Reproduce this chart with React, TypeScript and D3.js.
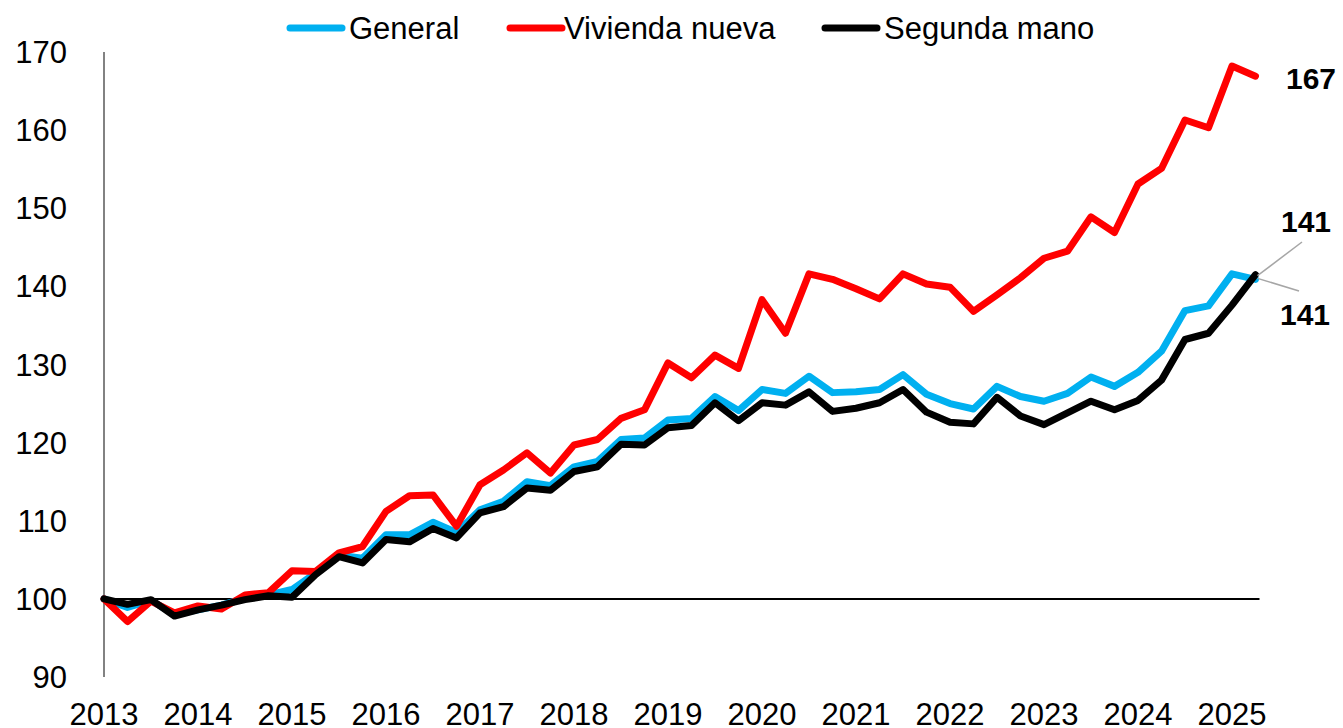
import React, { useEffect, useRef } from 'react';
import * as d3 from 'd3';

// Quarterly index, 2013Q1 = 100, up to 2025Q2
const years = [2013, 2014, 2015, 2016, 2017, 2018, 2019, 2020, 2021, 2022, 2023, 2024, 2025];
const yTicks = [90, 100, 110, 120, 130, 140, 150, 160, 170];

const general = [
  100, 98.9, 99.8, 98.0, 98.6, 99.2, 100.1, 100.5, 101.2, 103.3,
  105.6, 105.2, 108.2, 108.2, 109.8, 108.5, 111.4, 112.5, 115.0, 114.5,
  116.9, 117.6, 120.4, 120.6, 122.9, 123.1, 125.9, 124.1, 126.8, 126.3,
  128.5, 126.4, 126.5, 126.8, 128.7, 126.2, 125.0, 124.3, 127.2, 125.9,
  125.3, 126.3, 128.4, 127.2, 129.0, 131.7, 136.9, 137.5, 141.6, 140.9,
];
const viviendaNueva = [
  100, 97.1, 99.7, 98.2, 99.1, 98.7, 100.5, 100.8, 103.6, 103.5,
  105.9, 106.7, 111.2, 113.2, 113.3, 109.3, 114.6, 116.5, 118.7, 116.1,
  119.7, 120.4, 123.1, 124.2, 130.2, 128.3, 131.2, 129.5, 138.3, 134.0,
  141.6, 140.9, 139.7, 138.4, 141.6, 140.3, 139.9, 136.8, 138.9, 141.1,
  143.6, 144.5, 148.9, 146.9, 153.1, 155.1, 161.3, 160.3, 168.2, 166.9,
];
const segundaMano = [
  100, 99.3, 99.9, 97.8, 98.6, 99.2, 99.9, 100.4, 100.2, 103.1,
  105.4, 104.6, 107.6, 107.3, 109.0, 107.8, 111.0, 111.8, 114.2, 113.9,
  116.3, 116.9, 119.8, 119.7, 121.9, 122.2, 125.1, 122.8, 125.1, 124.8,
  126.5, 124.0, 124.4, 125.1, 126.8, 123.9, 122.6, 122.4, 125.8, 123.4,
  122.3, 123.8, 125.3, 124.2, 125.4, 128.0, 133.2, 134.0, 137.6, 141.5,
];

const seriesNames = ['General', 'Vivienda nueva', 'Segunda mano'];
const seriesColors = ['#00B0F0', '#FF0000', '#000000'];
const endLabels = ['141', '167', '141'];

const W = 1343;
const H = 728;
const FONT = '"Liberation Sans", Arial, sans-serif';

const App = () => {
  const ref = useRef<SVGSVGElement>(null);

  useEffect(() => {
    document.body.style.margin = '0';
    const svg = d3.select(ref.current);
    svg.selectAll('*').remove();

    const n = general.length;
    const x = d3.scaleLinear().domain([0, n - 1]).range([104, 104 + (n - 1) * 23.5]);
    const y = d3.scaleLinear().domain([90, 170]).range([677, 52]);

    // y axis line
    svg.append('line')
      .attr('x1', x(0)).attr('x2', x(0))
      .attr('y1', y(170)).attr('y2', y(90))
      .attr('stroke', '#595959').attr('stroke-width', 1.5);

    // y tick labels
    svg.append('g').selectAll('text').data(yTicks).enter().append('text')
      .attr('x', 67).attr('y', d => y(d) + 11)
      .attr('text-anchor', 'end')
      .attr('font-family', FONT).attr('font-size', 31).attr('fill', '#000')
      .text(d => d);

    // x tick labels
    svg.append('g').selectAll('text').data(years).enter().append('text')
      .attr('x', d => x((d - 2013) * 4)).attr('y', 725)
      .attr('text-anchor', 'middle')
      .attr('font-family', FONT).attr('font-size', 31).attr('fill', '#000')
      .text(d => d);

    // base line at 100
    svg.append('line')
      .attr('x1', x(0)).attr('x2', x(n - 1) + 4)
      .attr('y1', y(100)).attr('y2', y(100))
      .attr('stroke', '#000').attr('stroke-width', 2);

    const line = d3.line<number>().x((_, i) => x(i)).y(d => y(d));
    const all = [general, viviendaNueva, segundaMano];
    all.forEach((s, k) => {
      svg.append('path')
        .attr('d', line(s))
        .attr('fill', 'none')
        .attr('stroke', seriesColors[k])
        .attr('stroke-width', 7)
        .attr('stroke-linejoin', 'round')
        .attr('stroke-linecap', 'round');
    });

    // end labels
    const lastX = x(n - 1);
    const lastGen = y(general[n - 1]);
    const lastSeg = y(segundaMano[n - 1]);
    svg.append('line')
      .attr('x1', lastX + 2).attr('y1', lastSeg + 1)
      .attr('x2', 1302).attr('y2', 242)
      .attr('stroke', '#A6A6A6').attr('stroke-width', 1.5);
    svg.append('line')
      .attr('x1', lastX + 2).attr('y1', lastGen - 1)
      .attr('x2', 1299).attr('y2', 291)
      .attr('stroke', '#A6A6A6').attr('stroke-width', 1.5);

    const labelPos = [
      { x: 1280, y: 325 },
      { x: 1286, y: 89 },
      { x: 1281, y: 232 },
    ];
    endLabels.forEach((t, k) => {
      svg.append('text')
        .attr('x', labelPos[k].x).attr('y', labelPos[k].y)
        .attr('font-family', FONT).attr('font-size', 30).attr('font-weight', 'bold')
        .attr('fill', '#000')
        .text(t);
    });

    // legend
    const legLineX = [290, 510, 825];
    const legTextX = [349, 564, 884];
    seriesNames.forEach((name, k) => {
      svg.append('line')
        .attr('x1', legLineX[k]).attr('x2', legLineX[k] + 52)
        .attr('y1', 28).attr('y2', 28)
        .attr('stroke', seriesColors[k]).attr('stroke-width', 7)
        .attr('stroke-linecap', 'round');
      svg.append('text')
        .attr('x', legTextX[k]).attr('y', 39)
        .attr('font-family', FONT).attr('font-size', 31).attr('fill', '#000')
        .text(name);
    });
  }, []);

  return <svg ref={ref} width={W} height={H} style={{ display: 'block' }} />;
};

export default App;
